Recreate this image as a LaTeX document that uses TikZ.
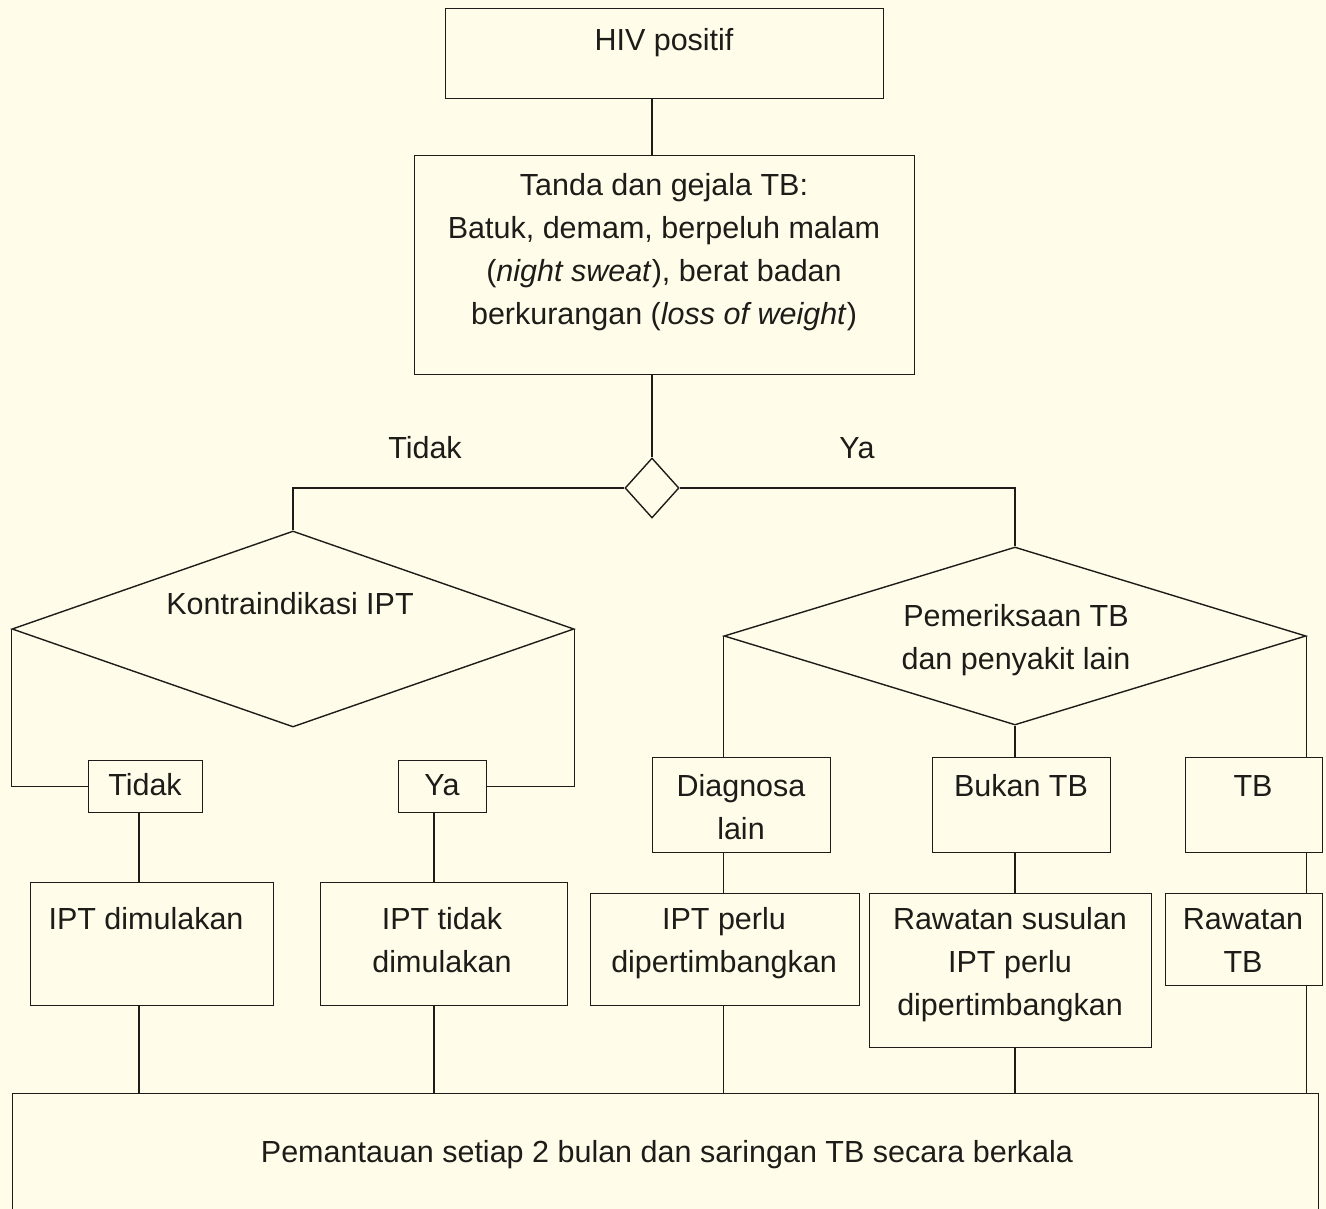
\documentclass[tikz,border=0pt]{standalone}
\usepackage{fontspec}
\setmainfont{Liberation Sans}
\usetikzlibrary{shapes.geometric}
\definecolor{paper}{RGB}{255,253,234}
\definecolor{ink}{RGB}{30,28,24}
% strut that fixes the top of every text block 24pt above its first baseline
\newcommand{\fl}{\rule{0pt}{24pt}}
\begin{document}
\begin{tikzpicture}[x=1pt,y=-1pt,
  line width=1.4pt, draw=ink,
  box/.style={draw=ink, line width=1.4pt, inner sep=0pt, anchor=north west},
  dia/.style={draw=ink, line width=1.4pt, diamond, inner sep=0pt, aspect=1},
  txt/.style={text=ink, font=\fontsize{30.5}{43}\selectfont, align=center, inner sep=0pt, anchor=north},
  link/.style={draw=ink, line width=1.4pt}]

\useasboundingbox (0,0) rectangle (1326,1209);
\clip (0,0) rectangle (1326,1209);
\fill[paper] (0,0) rectangle (1326,1209);

% column guides for the vertical connectors
\coordinate (colA) at (139,0);
\coordinate (colB) at (434,0);
\coordinate (colM) at (652,0);

% boxes
\node[box, minimum width=438pt, minimum height=90pt]  (hiv)    at (445,8) {};
\node[box, minimum width=500pt, minimum height=219pt] (tanda)  at (414,155) {};
\node[box, minimum width=114pt, minimum height=52pt]  (tidakb) at (88,760) {};
\node[box, minimum width=88pt,  minimum height=52pt]  (yab)    at (398,760) {};
\node[box, minimum width=178pt, minimum height=95pt]  (diag)   at (652,757) {};
\node[box, minimum width=178pt, minimum height=95pt]  (bukan)  at (932,757) {};
\node[box, minimum width=137pt, minimum height=95pt]  (tbb)    at (1185,757) {};
\node[box, minimum width=243pt, minimum height=123pt] (ipt1)   at (30,882) {};
\node[box, minimum width=247pt, minimum height=123pt] (ipt2)   at (320,882) {};
\node[box, minimum width=269pt, minimum height=112pt] (ipt3)   at (590,893) {};
\node[box, minimum width=282pt, minimum height=154pt] (raw1)   at (869,893) {};
\node[box, minimum width=157pt, minimum height=92pt]  (raw2)   at (1165,893) {};
\node[box, minimum width=1306pt, minimum height=150pt] (pem)   at (12,1093) {};

% decisions
\node[dia, minimum width=54pt,  minimum height=60pt]  (d0) at (652,488) {};
\node[dia, minimum width=562pt, minimum height=196pt] (kd) at (293,629) {};
\node[dia, minimum width=582pt, minimum height=178pt] (pd) at (1015,636) {};

% texts
\node[txt] (thiv)   at (664,26)  {\fl HIV positif};
\node[txt] (ttanda) at (664,171) {\fl Tanda dan gejala TB:\\Batuk, demam, berpeluh malam\\(\textit{night sweat}), berat badan\\berkurangan (\textit{loss of weight})};
\node[txt] (ltidak) at (425,434) {\fl Tidak};
\node[txt] (lya)    at (857,434) {\fl Ya};
\node[txt] (tkd)    at (290,590) {\fl Kontraindikasi IPT};
\node[txt] (tpd)    at (1016,602) {\fl Pemeriksaan TB\\dan penyakit lain};
\node[txt] (ttidak) at (145,771) {\fl Tidak};
\node[txt] (tya)    at (442,771) {\fl Ya};
\node[txt] (tdiag)  at (741,772) {\fl Diagnosa\\lain};
\node[txt] (tbukan) at (1021,772) {\fl Bukan TB};
\node[txt] (ttb)    at (1253,772) {\fl TB};
\node[txt] (tipt1)  at (146,905) {\fl IPT dimulakan};
\node[txt] (tipt2)  at (442,905) {\fl IPT tidak\\dimulakan};
\node[txt] (tipt3)  at (724,905) {\fl IPT perlu\\dipertimbangkan};
\node[txt] (traw1)  at (1010,905) {\fl Rawatan susulan\\IPT perlu\\dipertimbangkan};
\node[txt] (traw2)  at (1243,905) {\fl Rawatan\\TB};
\node[txt] (tpem)   at (667,1138) {\fl Pemantauan setiap 2 bulan dan saringan TB secara berkala};

% connectors
\draw[link] (colM |- hiv.south) -- (colM |- tanda.north);
\draw[link] (colM |- tanda.south) -- (d0.north);
\draw[link] (d0.west) -| (kd.north);
\draw[link] (d0.east) -| (pd.north);
\draw[link] (kd.west) |- (tidakb.west);
\draw[link] (kd.east) |- (yab.east);
\draw[link] (colA |- tidakb.south) -- (colA |- ipt1.north);
\draw[link] (colB |- yab.south) -- (colB |- ipt2.north);
\draw[link] (pd.west) -- (pd.west |- diag.north);
\draw[link] (pd.south) -- (pd.south |- bukan.north);
\draw[link] (pd.east) -- (pd.east |- tbb.north);
\draw[link] (pd.west |- diag.south) -- (pd.west |- ipt3.north);
\draw[link] (pd.south |- bukan.south) -- (pd.south |- raw1.north);
\draw[link] (pd.east |- tbb.south) -- (pd.east |- raw2.north);
\draw[link] (colA |- ipt1.south) -- (colA |- pem.north);
\draw[link] (colB |- ipt2.south) -- (colB |- pem.north);
\draw[link] (pd.west |- ipt3.south) -- (pd.west |- pem.north);
\draw[link] (pd.south |- raw1.south) -- (pd.south |- pem.north);
\draw[link] (pd.east |- raw2.south) -- (pd.east |- pem.north);
\end{tikzpicture}
\end{document}
